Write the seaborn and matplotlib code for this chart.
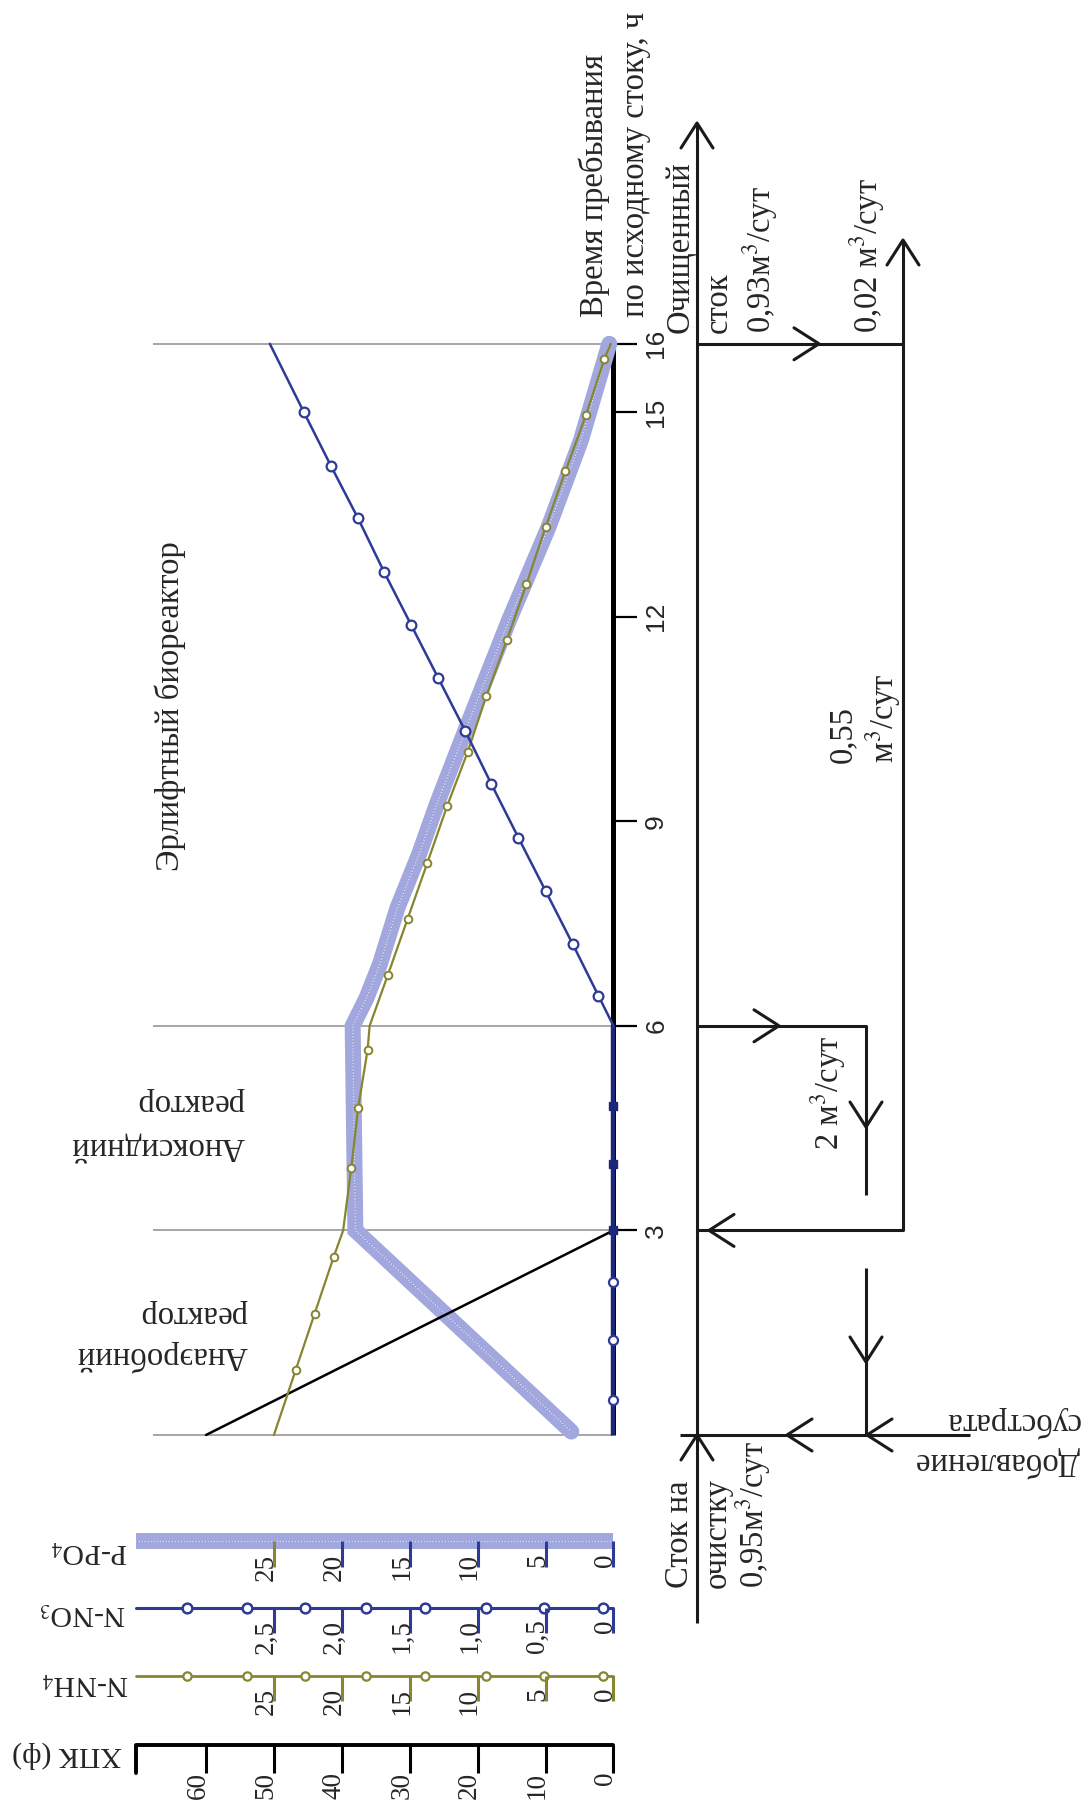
import matplotlib
matplotlib.use("Agg")
import matplotlib.pyplot as plt
import seaborn as sns
from matplotlib.transforms import offset_copy

sns.set_theme(style="white")
plt.rcParams['font.family'] = ['Liberation Serif', 'DejaVu Serif']
plt.rcParams['mathtext.fontset'] = 'stix'

# ---- data (time in hours, values in each series' own units) ----
time_ticks = [3, 6, 9, 12, 15, 16]
zone_t = [0, 3, 6, 16]

cod_t = [0, 3]
cod_v = [60, 0]

nh4_t = [0, 0.95, 1.78, 2.61, 3.0, 3.92, 4.79, 5.65, 6.0, 6.75, 7.57, 8.39, 9.22,
         10.01, 10.84, 11.66, 12.48, 13.31, 14.13, 14.95, 15.78, 16.0]
nh4_v = [25.0, 23.4, 22.0, 20.6, 19.9, 19.3, 18.8, 18.1, 17.95, 16.6, 15.15, 13.7, 12.25,
         10.74, 9.35, 7.84, 6.4, 5.0, 3.54, 2.03, 0.66, 0.2]
nh4_marks = [1, 2, 3, 5, 6, 7, 9, 10, 11, 12, 13, 14, 15, 16, 17, 18, 19, 20]

no3_zero_t = [0, 0.51, 1.39, 2.25, 3.0, 3.98, 4.83, 6.0]
no3_zero_v = [0, 0, 0, 0, 0, 0, 0, 0]
no3_t = [6.0, 6.44, 7.2, 7.98, 8.76, 9.55, 10.32, 11.1, 11.88, 12.66, 13.44, 14.21, 15.0, 16.0]
no3_v = [0, 0.11, 0.30, 0.50, 0.70, 0.90, 1.09, 1.29, 1.49, 1.69, 1.88, 2.08, 2.28, 2.53]

po4_t = [0.05, 3, 6, 6.4, 6.9, 7.73, 8.52, 9.25, 10.33, 11.94, 13.3, 14.58, 16]
po4_v = [3.1, 19.0, 19.2, 18.2, 17.2, 15.9, 14.3, 13.0, 10.9, 7.7, 4.8, 2.4, 0.3]

# scale rows at the bottom
cod_ticks = [0, 10, 20, 30, 40, 50, 60]
nh4_ticks = [0, 5, 10, 15, 20, 25]
no3_ticks = [0, 0.5, 1.0, 1.5, 2.0, 2.5]
no3_tick_labels = ['0', '0,5', '1,0', '1,5', '2,0', '2,5']
po4_ticks = [0, 5, 10, 15, 20, 25]
legend_marks_nh4 = [31.4, 27.0, 22.7, 18.2, 13.9, 9.4, 5.1, 0.8]
legend_marks_no3 = [3.14, 2.70, 2.27, 1.82, 1.39, 0.94, 0.51, 0.08]

BLUE = '#2d3a96'
NAVY = '#1b2778'
OLIVE = '#86862f'
BAND = '#a2a8dd'
BAND_DOT = '#7d86cf'
GRAY = '#a6a6a6'

# ---- layout: one pixel-space axes + stacked data axes with the same frame ----
W, H = 1089, 1814
X0, PXU = 613.4, 6.79        # x pixel of value 0, pixels per COD unit
T0, PXH = 1435.0, 68.2       # y pixel of t=0, pixels per hour
cod_lim = (X0 / PXU, (X0 - W) / PXU)
t_lim = ((T0 - H) / PXH, T0 / PXH)

fig = plt.figure(figsize=(W / 100, H / 100), dpi=100)

def data_ax(scale, z):
    a = fig.add_axes([0, 0, 1, 1], zorder=z)
    a.patch.set_visible(False)
    a._scale = scale
    return a

ax_px = fig.add_axes([0, 0, 1, 1], zorder=0)
ax_base = data_ax(1.0, 1)
ax_po4 = data_ax(0.5, 2)
ax_cod = data_ax(1.0, 3)
ax_nh4 = data_ax(0.5, 4)
ax_no3 = data_ax(0.05, 5)

# ---- zone lines and time axis ----
ax_base.hlines(zone_t, 0, 67.8, color=GRAY, lw=1.4)
ax_base.plot([0, 0], [0, 16], color='black', lw=3.6, solid_capstyle='butt')
ax_base.hlines(time_ticks, 0, -3.5, color='black', lw=1.6)
for t in time_ticks:
    ax_base.text(-6.3, t, str(t), rotation=90, ha='center', va='center', fontsize=19,
                 family=['Liberation Sans Narrow', 'Liberation Sans'])

# ---- P-PO4 band ----
def band(a, xs, ys):
    a.plot(xs, ys, color=BAND, lw=11.5, solid_joinstyle='miter', solid_capstyle='butt')
    a.plot(xs, ys, color=BAND_DOT, lw=1.0, ls=(0, (1, 1.4)), alpha=0.6)
    a.plot(xs, ys, color='white', lw=0.9, ls=(0.7, (1, 1.4)), alpha=0.7)

sns.lineplot(x=po4_v, y=po4_t, sort=False, estimator=None, color=BAND, lw=11.5,
             solid_joinstyle='miter', ax=ax_po4)
ax_po4.plot(po4_v, po4_t, color=BAND_DOT, lw=1.0, ls=(0, (1, 1.4)), alpha=0.6)
ax_po4.plot(po4_v, po4_t, color='white', lw=0.9, ls=(0.7, (1, 1.4)), alpha=0.7)

# ---- COD ----
sns.lineplot(x=cod_v, y=cod_t, sort=False, estimator=None, color='black', lw=1.8, ax=ax_cod)

# ---- N-NH4 ----
sns.lineplot(x=nh4_v, y=nh4_t, sort=False, estimator=None, color=OLIVE, lw=1.6,
             marker='o', markevery=nh4_marks, ms=5.5, mfc='white', mec=OLIVE, mew=1.4, ax=ax_nh4)

# ---- N-NO3 ----
sns.lineplot(x=no3_zero_v, y=no3_zero_t, sort=False, estimator=None, color=NAVY, lw=3.2,
             solid_capstyle='butt', ax=ax_no3)
ax_no3.plot(no3_zero_v[1:4], no3_zero_t[1:4], 'o', ms=6.5, mfc='white', mec=BLUE, mew=1.6)
ax_no3.plot(no3_zero_v[4:7], no3_zero_t[4:7], 's', ms=5.5, mfc=NAVY, mec=NAVY)
sns.lineplot(x=no3_v, y=no3_t, sort=False, estimator=None, color=BLUE, lw=1.8,
             marker='o', markevery=list(range(1, len(no3_t) - 1)), ms=7, mfc='white',
             mec=BLUE, mew=1.6, ax=ax_no3)

# ---- scale rows ----
def scale_row(a, row_t, ticks, labels, color, tick_len=0.37, lab_dy=-12, tick_colors=None):
    off = offset_copy(a.transData, fig=fig, x=-8, y=lab_dy, units='dots')
    a.vlines(ticks, row_t, row_t - tick_len, colors=tick_colors or color, lw=2.2)
    for v, s in zip(ticks, labels):
        a.text(v, row_t, s, transform=off, rotation=90, ha='center', va='top', fontsize=19.5)

row_po4, row_no3, row_nh4, row_cod = -1.56, -2.53, -3.53, -4.545

band(ax_po4, [35.15, 0], [row_po4, row_po4])
scale_row(ax_po4, row_po4, po4_ticks, [str(v) for v in po4_ticks], BLUE,
          tick_colors=[BLUE, BLUE, BLUE, BLUE, BLUE, OLIVE])

ax_no3.plot([3.515, 0], [row_no3, row_no3], color=BLUE, lw=2.2)
ax_no3.plot(legend_marks_no3, [row_no3] * len(legend_marks_no3), 'o', ms=7, mfc='white',
            mec=BLUE, mew=1.8)
scale_row(ax_no3, row_no3, no3_ticks, no3_tick_labels, BLUE)

ax_nh4.plot([35.15, 0], [row_nh4, row_nh4], color=OLIVE, lw=2.0)
ax_nh4.plot(legend_marks_nh4, [row_nh4] * len(legend_marks_nh4), 'o', ms=6, mfc='white',
            mec=OLIVE, mew=1.6)
scale_row(ax_nh4, row_nh4, nh4_ticks, [str(v) for v in nh4_ticks], OLIVE)

ax_cod.plot([70.3, 70.3, 0], [row_cod - 0.41, row_cod, row_cod], color='black', lw=2.8)
scale_row(ax_cod, row_cod, cod_ticks, [str(v) for v in cod_ticks], 'black',
          tick_len=0.41, lab_dy=-27)

for s, x, y in [('P-PO$_4$', 89, 1551), ('N-NO$_3$', 83, 1613),
                ('N-NH$_4$', 85, 1683), ('ХПК (ф)', 67, 1755)]:
    ax_px.text(x, y, s, rotation=180, ha='center', va='center', fontsize=21.5)

# ---- flow scheme (pixel space) ----
def Y(t):
    return T0 - t * PXH

def seg(xs, ys):
    ax_px.plot(xs, ys, color='#1a1a1a', lw=2.2, solid_capstyle='butt')

def chevron(x, y, d, L=25, w=16):
    dx, dy = {'up': (0, -1), 'down': (0, 1), 'left': (-1, 0), 'right': (1, 0)}[d]
    px, py = -dy, dx
    bx, by = x - L * dx, y - L * dy
    ax_px.plot([bx + w * px, x, bx - w * px], [by + w * py, y, by - w * py],
               color='#1a1a1a', lw=2.2)

MAIN_X, FEED_X, LOOP_X = 697, 866, 903
seg([MAIN_X, MAIN_X], [1623, 123])
seg([680, 970], [Y(0), Y(0)])
seg([FEED_X, FEED_X], [Y(0), 1268])
seg([MAIN_X, FEED_X, FEED_X], [Y(6), Y(6), 1195])
seg([MAIN_X, LOOP_X, LOOP_X], [Y(3), Y(3), 240])
seg([MAIN_X, LOOP_X], [Y(16), Y(16)])

chevron(MAIN_X, 123, 'up')
chevron(MAIN_X, Y(0), 'up')
chevron(787, Y(0), 'left')
chevron(867, Y(0), 'left')
chevron(FEED_X, 1362, 'down')
chevron(779, Y(6), 'right')
chevron(FEED_X, 1127, 'down')
chevron(709, Y(3), 'left')
chevron(819, Y(16), 'right')
chevron(LOOP_X, 240, 'up')

FS = 23.5
for s, x, y in [('Время пребывания', 594, 317), ('по исходному стоку, ч', 636, 317),
                ('Очищенный', 680, 333), ('сток', 719, 333), ('0,93м$^3$/сут', 760, 333),
                ('0,02 м$^3$/сут', 867, 333), ('0,55', 843, 763), ('м$^3$/сут', 883, 763),
                ('2 м$^3$/сут', 828, 1150), ('Сток на', 680, 1588), ('очистку', 717, 1588),
                ('0,95м$^3$/сут', 753, 1588)]:
    ax_px.text(x, y, s, rotation=90, ha='center', va='bottom', fontsize=FS)

ax_px.text(170, 706, 'Эрлифтный биореактор', rotation=90, ha='center', va='center', fontsize=FS)

for s, x, y in [('реактор', 248, 1314), ('Анаэробний', 248, 1356),
                ('реактор', 245, 1102), ('Аноксидний', 245, 1146),
                ('субстрата', 1080, 1422), ('Добавление', 1080, 1462)]:
    ax_px.text(x, y, s, rotation=180, ha='right', va='center', fontsize=FS)

# ---- final limits ----
ax_px.set_xlim(0, W)
ax_px.set_ylim(H, 0)
ax_px.axis('off')
for a in [ax_base, ax_po4, ax_cod, ax_nh4, ax_no3]:
    a.set_xlim(cod_lim[0] * a._scale, cod_lim[1] * a._scale)
    a.set_ylim(*t_lim)
    a.axis('off')

fig.savefig('out.png', dpi=100, facecolor='white')
